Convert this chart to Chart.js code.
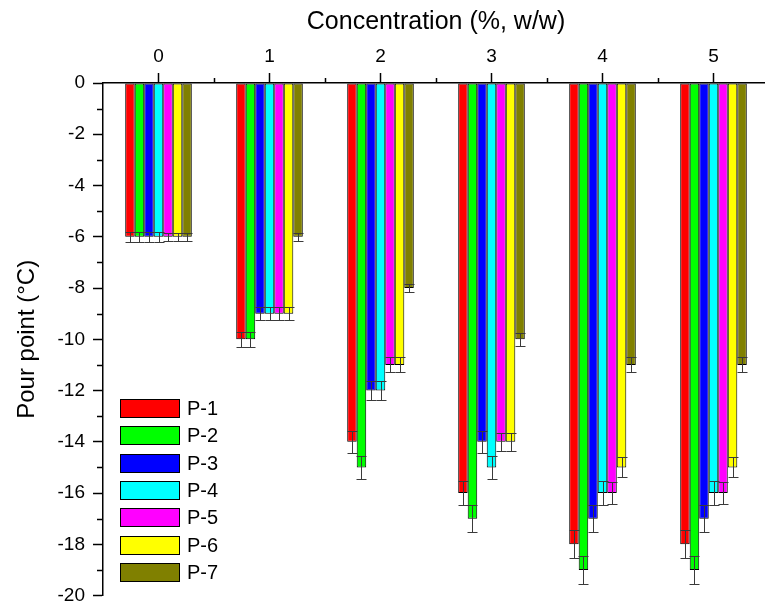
<!DOCTYPE html>
<html>
<head>
<meta charset="utf-8">
<script src="https://cdn.jsdelivr.net/npm/chart.js@4.4.0/dist/chart.umd.min.js"></script>
<style>
  html, body { margin: 0; padding: 0; overflow: hidden; background: #fff; }
  #wrap { width: 770px; height: 615px; }
</style>
</head>
<body>
<div id="wrap"><canvas id="chart"></canvas></div>
<script>
const concentrations = ['0', '1', '2', '3', '4', '5'];
const seriesNames = ['P-1', 'P-2', 'P-3', 'P-4', 'P-5', 'P-6', 'P-7'];
const seriesColors = ['#ff0000', '#00ff00', '#0000ff', '#00ffff', '#ff00ff', '#ffff00', '#808000'];

const p1 = [-6, -10, -14, -16, -18, -18];
const p2 = [-6, -10, -15, -17, -19, -19];
const p3 = [-6, -9, -12, -14, -17, -17];
const p4 = [-6, -9, -12, -15, -16, -16];
const p5 = [-6, -9, -11, -14, -16, -16];
const p6 = [-6, -9, -11, -14, -15, -15];
const p7 = [-6, -6, -8, -10, -11, -11];

const p1Err = [0.2, 0.3, 0.42, 0.48, 0.55, 0.55];
const p2Err = [0.2, 0.3, 0.45, 0.52, 0.56, 0.56];
const p3Err = [0.2, 0.25, 0.36, 0.42, 0.52, 0.52];
const p4Err = [0.2, 0.25, 0.36, 0.45, 0.48, 0.48];
const p5Err = [0.15, 0.25, 0.29, 0.35, 0.42, 0.42];
const p6Err = [0.15, 0.25, 0.29, 0.35, 0.39, 0.39];
const p7Err = [0.15, 0.15, 0.16, 0.26, 0.29, 0.29];

const allValues = [p1, p2, p3, p4, p5, p6, p7];
const allErrors = [p1Err, p2Err, p3Err, p4Err, p5Err, p6Err, p7Err];

const FONT = '"Liberation Sans", Arial, sans-serif';

// error bars, drawn through the y scale
const errorBars = {
    id: 'errorBars',
    afterDatasetsDraw(chart) {
        const ctx = chart.ctx;
        const y = chart.scales.y;
        ctx.save();
        ctx.strokeStyle = '#3a3a3a';
        ctx.lineWidth = 1;
        chart.data.datasets.forEach((ds, di) => {
            const meta = chart.getDatasetMeta(di);
            meta.data.forEach((bar, i) => {
                const v = ds.data[i];
                const e = ds.errors[i];
                const top = Math.round(y.getPixelForValue(v + e)) + 0.5;
                const bot = Math.round(y.getPixelForValue(v - e)) + 0.5;
                const x = Math.round(bar.x) + 0.5;
                const hw = 5;
                ctx.beginPath();
                ctx.moveTo(x, top); ctx.lineTo(x, bot);
                ctx.moveTo(x - hw, top); ctx.lineTo(x + hw, top);
                ctx.moveTo(x - hw, bot); ctx.lineTo(x + hw, bot);
                ctx.stroke();
            });
        });
        ctx.restore();
    }
};

// minor ticks on both axes
const minorTicks = {
    id: 'minorTicks',
    afterDraw(chart) {
        const ctx = chart.ctx;
        const x = chart.scales.x;
        const y = chart.scales.y;
        const area = chart.chartArea;
        ctx.save();
        ctx.strokeStyle = '#000';
        ctx.lineWidth = 1.5;
        ctx.beginPath();
        for (let v = -1; v >= -19; v -= 2) {
            const py = Math.round(y.getPixelForValue(v)) + 0.5;
            ctx.moveTo(area.left, py);
            ctx.lineTo(area.left - 6, py);
        }
        for (let i = 0.5; i < concentrations.length; i += 1) {
            const px = Math.round(x.getPixelForValue(i)) + 0.5;
            ctx.moveTo(px, area.top);
            ctx.lineTo(px, area.top - 5);
        }
        ctx.stroke();
        ctx.restore();
    }
};

// legend inside the plot, lower left
const boxLegend = {
    id: 'boxLegend',
    afterDraw(chart) {
        const ctx = chart.ctx;
        const left = 120, top0 = 399, step = 27.3, bw = 59, bh = 18;
        ctx.save();
        ctx.font = '20px ' + FONT;
        ctx.textBaseline = 'middle';
        chart.data.datasets.forEach((ds, i) => {
            const t = Math.round(top0 + i * step);
            ctx.fillStyle = ds.backgroundColor;
            ctx.fillRect(left, t, bw, bh);
            ctx.strokeStyle = '#000';
            ctx.lineWidth = 1;
            ctx.strokeRect(left + 0.5, t + 0.5, bw, bh);
            ctx.fillStyle = '#000';
            ctx.fillText(ds.label, left + bw + 8, t + bh / 2 + 1);
        });
        ctx.restore();
    }
};

const ctx = document.getElementById('chart').getContext('2d');
const myChart = new Chart(ctx, {
    type: 'bar',
    data: {
        labels: concentrations,
        datasets: seriesNames.map((name, i) => ({
            label: name,
            data: allValues[i],
            errors: allErrors[i],
            backgroundColor: seriesColors[i],
            borderColor: '#000',
            borderWidth: 1,
            borderSkipped: false,
            categoryPercentage: 0.6,
            barPercentage: 1.0
        }))
    },
    options: {
        responsive: true,
        maintainAspectRatio: false,
        animation: false,
        layout: { padding: { left: 0, right: 1, top: 0, bottom: 0 } },
        plugins: {
            legend: { display: false },
            tooltip: { enabled: false }
        },
        scales: {
            x: {
                position: 'top',
                offset: true,
                grid: {
                    display: true,
                    drawOnChartArea: false,
                    offset: false,
                    tickLength: 10,
                    tickColor: '#000',
                    tickWidth: 1.5
                },
                border: { display: true, color: '#000', width: 1.5 },
                ticks: {
                    color: '#000',
                    font: { family: FONT, size: 19 },
                    padding: 5
                },
                title: {
                    display: true,
                    text: 'Concentration (%, w/w)',
                    color: '#000',
                    font: { family: FONT, size: 25 },
                    padding: { top: 7, bottom: 0 }
                },
                afterFit(scale) { scale.height = 83; }
            },
            y: {
                min: -20,
                max: 0,
                grid: {
                    display: true,
                    drawOnChartArea: false,
                    tickLength: 10,
                    tickColor: '#000',
                    tickWidth: 1.5
                },
                border: { display: true, color: '#000', width: 1.5 },
                ticks: {
                    stepSize: 2,
                    color: '#000',
                    font: { family: FONT, size: 19 },
                    padding: 8
                },
                title: {
                    display: true,
                    text: 'Pour point (°C)',
                    color: '#000',
                    font: { family: FONT, size: 24 },
                    padding: { top: 13, bottom: 0 }
                },
                afterFit(scale) { scale.width = 103; }
            }
        }
    },
    plugins: [errorBars, minorTicks, boxLegend]
});
</script>
</body>
</html>
